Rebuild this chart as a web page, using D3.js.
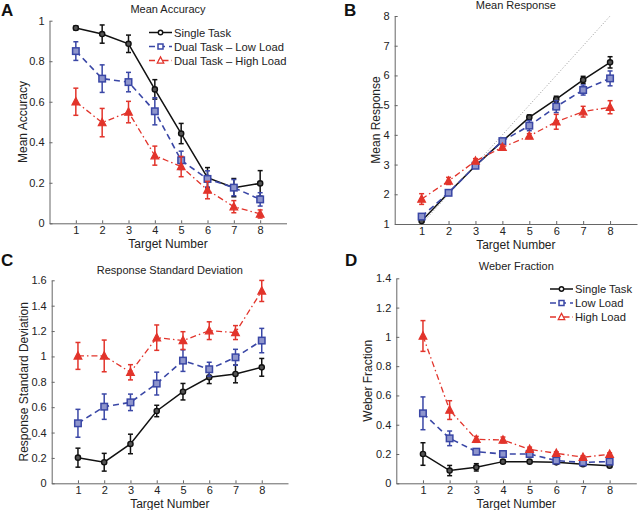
<!DOCTYPE html>
<html><head><meta charset="utf-8">
<script src="https://cdn.jsdelivr.net/npm/d3@7"></script>
<style>body{margin:0;background:#fff}svg{display:block;font-family:"Liberation Sans",Arial,sans-serif}</style>
</head><body><svg id="c" width="638" height="510"></svg>
<script>
const targets = [1,2,3,4,5,6,7,8];
const seriesNames = ["Single Task","Dual Task \u2013 Low Load","Dual Task \u2013 High Load"];
const seriesNamesD = ["Single Task","Low Load","High Load"];

// A: Mean Accuracy
const accSingle = [0.964,0.934,0.886,0.661,0.443,0.225,0.176,0.197];
const accSingleErr = [0.01,0.045,0.043,0.048,0.05,0.05,0.045,0.063];
const accLow = [0.85,0.714,0.697,0.553,0.311,0.219,0.176,0.118];
const accLowErr = [0.046,0.068,0.048,0.067,0.045,0.04,0.04,0.033];
const accHigh = [0.60,0.497,0.549,0.334,0.28,0.164,0.082,0.046];
const accHighErr = [0.067,0.07,0.053,0.047,0.05,0.043,0.03,0.02];

// B: Mean Response
const respSingle = [1.1,2.05,2.96,3.79,4.59,5.20,5.85,6.44];
const respSingleErr = [0.04,0.05,0.05,0.06,0.08,0.1,0.12,0.19];
const respLow = [1.25,2.05,2.96,3.79,4.31,4.95,5.51,5.90];
const respLowErr = [0.05,0.05,0.05,0.06,0.17,0.2,0.17,0.25];
const respHigh = [1.84,2.45,3.12,3.58,3.96,4.44,4.78,4.93];
const respHighErr = [0.18,0.12,0.08,0.08,0.08,0.25,0.18,0.22];

// C: Response Standard Deviation
const sdSingle = [0.202,0.166,0.31,0.57,0.722,0.836,0.862,0.914];
const sdSingleErr = [0.075,0.07,0.077,0.045,0.065,0.05,0.07,0.07];
const sdLow = [0.473,0.604,0.638,0.786,0.967,0.899,0.993,1.125];
const sdLowErr = [0.11,0.1,0.065,0.09,0.085,0.055,0.063,0.096];
const sdHigh = [1.004,1.004,0.875,1.148,1.125,1.203,1.188,1.516];
const sdHighErr = [0.106,0.125,0.06,0.1,0.07,0.07,0.055,0.083];

// D: Weber Fraction
const wfSingle = [0.20,0.087,0.109,0.148,0.148,0.143,0.13,0.12];
const wfSingleErr = [0.077,0.035,0.025,0.01,0.01,0.01,0.01,0.01];
const wfLow = [0.478,0.307,0.216,0.20,0.20,0.155,0.143,0.148];
const wfLowErr = [0.112,0.05,0.02,0.02,0.015,0.01,0.01,0.01];
const wfHigh = [1.006,0.50,0.30,0.296,0.232,0.205,0.178,0.198];
const wfHighErr = [0.105,0.064,0.02,0.02,0.015,0.01,0.01,0.01];

const ticksA = [0,0.2,0.4,0.6,0.8,1];
const ticksB = [1,2,3,4,5,6,7,8];
const ticksC = [0,0.2,0.4,0.6,0.8,1,1.2,1.4,1.6];
const ticksD = [0,0.2,0.4,0.6,0.8,1,1.2,1.4];

const styles = [
  {color:"#111111", dash:null, width:1.5, marker:"circle"},
  {color:"#3a47a6", dash:"6,4", width:1.6, marker:"square"},
  {color:"#e2342b", dash:"6,3,1.5,3", width:1.3, marker:"triangle"}
];

const svg = d3.select("#c");

function panel(cfg){
  const g = svg.append("g");
  const x = d3.scaleLinear().domain([0,9]).range([cfg.x0,cfg.x1]);
  const y = d3.scaleLinear().domain(cfg.ydom).range([cfg.y0,cfg.y1]);
  const fmt = v => String(+v.toFixed(1));
  const ax = g.append("g").attr("transform",`translate(0,${cfg.y0})`)
    .call(d3.axisBottom(x).tickValues(targets).tickSizeInner(-3).tickSizeOuter(0).tickPadding(3));
  const ay = g.append("g").attr("transform",`translate(${cfg.x0},0)`)
    .call(d3.axisLeft(y).tickValues(cfg.ticks).tickFormat(fmt).tickSizeInner(-3).tickSizeOuter(0).tickPadding(5));
  [ax,ay].forEach(a=>{
    a.select(".domain").attr("stroke","#666").attr("stroke-width",1);
    a.selectAll(".tick line").attr("stroke","#666");
    a.selectAll("text").attr("font-size",11).attr("fill","#222").attr("font-family","Liberation Sans, Arial, sans-serif");
  });
  const cx = (cfg.x0+cfg.x1)/2;
  g.append("text").attr("x",cfg.titleX||cx).attr("y",cfg.titleY).attr("text-anchor","middle")
    .attr("font-size",11).attr("fill","#222").text(cfg.title);
  g.append("text").attr("x",cfg.xlabX||cx).attr("y",cfg.y0+25).attr("text-anchor","middle")
    .attr("font-size",12).attr("fill","#222").text("Target Number");
  g.append("text").attr("transform",`translate(${cfg.ylabX},${(cfg.y0+cfg.y1)/2}) rotate(-90)`)
    .attr("text-anchor","middle").attr("font-size",12).attr("fill","#222").text(cfg.ylabel);
  g.append("text").attr("x",cfg.letterX).attr("y",cfg.letterY).attr("font-size",17).attr("font-weight","bold")
    .attr("fill","#111").text(cfg.letter);
  if(cfg.diag){
    g.append("line").attr("x1",x(1)).attr("y1",y(1)).attr("x2",x(8)).attr("y2",y(8))
      .attr("stroke","#999").attr("stroke-width",1).attr("stroke-dasharray","1,2");
  }
  cfg.series.forEach((s,i)=>{
    const st = styles[i];
    const pts = targets.map((t,k)=>({t, v:s.v[k], e:s.e[k]}));
    const sg = g.append("g");
    sg.append("path").datum(pts)
      .attr("d", d3.line().x(d=>x(d.t)).y(d=>y(d.v)))
      .attr("fill","none").attr("stroke",st.color).attr("stroke-width",st.width)
      .attr("stroke-dasharray",st.dash);
    const eb = sg.selectAll(".eb").data(pts).enter().append("g");
    eb.append("line").attr("x1",d=>x(d.t)).attr("x2",d=>x(d.t))
      .attr("y1",d=>y(d.v-d.e)).attr("y2",d=>y(d.v+d.e)).attr("stroke",st.color).attr("stroke-width",1.5);
    [-1,1].forEach(sg2=>{
      eb.append("line").attr("x1",d=>x(d.t)-2.5).attr("x2",d=>x(d.t)+2.5)
        .attr("y1",d=>y(d.v+sg2*d.e)).attr("y2",d=>y(d.v+sg2*d.e)).attr("stroke",st.color).attr("stroke-width",1.5);
    });
    drawMarkers(sg, pts.map(d=>[x(d.t),y(d.v)]), st, false);
  });
  if(cfg.legend){
    const L = cfg.legend;
    L.names.forEach((n,i)=>{
      const st = styles[i];
      const yy = L.y + i*L.dy;
      g.append("line").attr("x1",L.x).attr("x2",L.x+23).attr("y1",yy).attr("y2",yy)
        .attr("stroke",st.color).attr("stroke-width",st.width).attr("stroke-dasharray",st.dash);
      drawMarkers(g,[[L.x+11.5,yy]],st,true);
      g.append("text").attr("x",L.x+25).attr("y",yy+4).attr("font-size",11.2).attr("fill","#222").text(n);
    });
  }
}

function drawMarkers(g, pts, st, legend){
  pts.forEach(([px,py])=>{
    if(st.marker==="circle"){
      g.append("circle").attr("cx",px).attr("cy",py).attr("r",legend?2.2:2.6)
        .attr("fill",legend?"#fff":"#555").attr("stroke",st.color).attr("stroke-width",1.4);
    } else if(st.marker==="square"){
      const s = legend?5:6.5;
      g.append("rect").attr("x",px-s/2).attr("y",py-s/2).attr("width",s).attr("height",s)
        .attr("fill",legend?"#fff":"#8e95cc").attr("stroke",st.color).attr("stroke-width",1.5);
    } else {
      const h = legend?6:7;
      g.append("path").attr("d",`M${px},${py-h*0.6}L${px+h*0.55},${py+h*0.45}L${px-h*0.55},${py+h*0.45}Z`)
        .attr("fill",legend?"#fff":st.color).attr("stroke",st.color).attr("stroke-width",1.2);
    }
  });
}

panel({x0:49.5,x1:286.5,y0:223.3,y1:20.7,ydom:[0,1],ticks:ticksA,title:"Mean Accuracy",titleY:13,
  ylabel:"Mean Accuracy",ylabX:27,letter:"A",letterX:1,letterY:16,
  series:[{v:accSingle,e:accSingleErr},{v:accLow,e:accLowErr},{v:accHigh,e:accHighErr}],
  legend:{names:seriesNames,x:149,y:32.5,dy:14}});
panel({x0:394.7,x1:637,y0:224,y1:16,ydom:[1,8],ticks:ticksB,title:"Mean Response",titleY:9,
  ylabel:"Mean Response",ylabX:380,letter:"B",letterX:344,letterY:16,diag:true,
  series:[{v:respSingle,e:respSingleErr},{v:respLow,e:respLowErr},{v:respHigh,e:respHighErr}]});
panel({x0:51.7,x1:288,y0:483.3,y1:280.3,ydom:[0,1.6],ticks:ticksC,title:"Response Standard Deviation",titleY:274,
  ylabel:"Response Standard Deviation",ylabX:28,letter:"C",letterX:1,letterY:266,
  series:[{v:sdSingle,e:sdSingleErr},{v:sdLow,e:sdLowErr},{v:sdHigh,e:sdHighErr}]});
panel({x0:396.3,x1:636.3,y0:483.3,y1:278.3,ydom:[0,1.4],ticks:ticksD,title:"Weber Fraction",titleY:270,
  ylabel:"Weber Fraction",ylabX:372,letter:"D",letterX:345,letterY:266,
  series:[{v:wfSingle,e:wfSingleErr},{v:wfLow,e:wfLowErr},{v:wfHigh,e:wfHighErr}],
  legend:{names:seriesNamesD,x:550,y:289,dy:14}});
</script></body></html>
